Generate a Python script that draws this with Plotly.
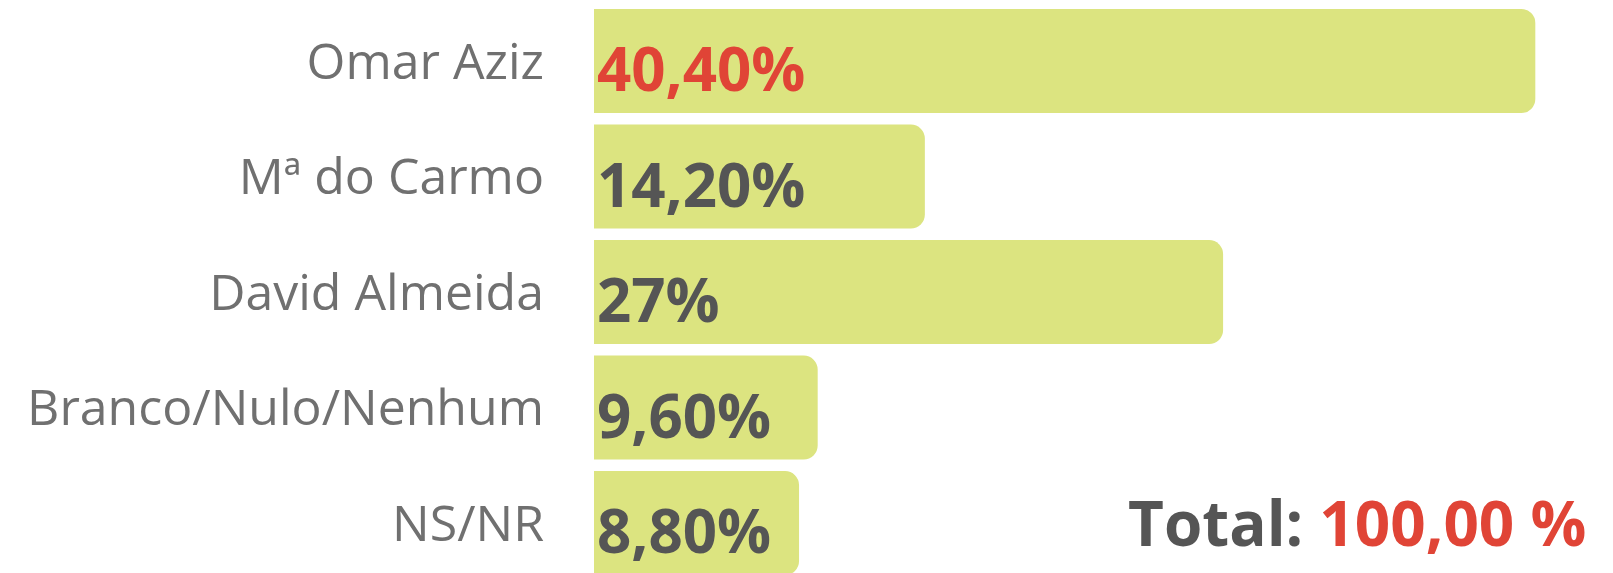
import plotly.graph_objects as go

categories = ["Omar Aziz", "Mª do Carmo", "David Almeida", "Branco/Nulo/Nenhum", "NS/NR"]
values = [40.4, 14.2, 27.0, 9.6, 8.8]
value_labels = ["40,40%", "14,20%", "27%", "9,60%", "8,80%"]
label_colors = ["#e04436", "#555555", "#555555", "#555555", "#555555"]
total_label = "100,00 %"

BAR = "#dce480"

fig = go.Figure()
fig.add_trace(go.Bar(
    y=categories, x=values, orientation="h",
    marker=dict(color=BAR, line=dict(width=0)),
    width=0.9, hoverinfo="skip",
))

for cat, v, lab, col in zip(categories, values, value_labels, label_colors):
    fig.add_annotation(
        x=0, y=cat, xref="x", yref="y", text=f"<b>{lab}</b>", showarrow=False,
        xanchor="left", yanchor="middle", xshift=1, yshift=-7,
        font=dict(family="Open Sans", size=60, color=col),
    )

W, H = 1613, 573
L = 594
ppu = 23.3

fig.add_annotation(
    x=(1588 - L) / (W - L), y=1 - 522 / H, xref="paper", yref="paper",
    text=f"<b><span style='color:#555555'>Total:</span> {total_label}</b>",
    showarrow=False, xanchor="right", yanchor="middle",
    font=dict(family="Open Sans", size=62, color="#e04436"),
)

fig.update_layout(
    width=W, height=H,
    margin=dict(l=L, r=0, t=0, b=0, autoexpand=False),
    paper_bgcolor="white", plot_bgcolor="white",
    showlegend=False, barcornerradius=14,
    xaxis=dict(range=[0, (W - L) / ppu], visible=False, fixedrange=True, automargin=False),
    yaxis=dict(
        range=[4 + 50 / 115.5, -61 / 115.5], showgrid=False, zeroline=False,
        showline=False, ticks="", ticklabelstandoff=49, automargin=False,
        tickfont=dict(family="Open Sans", size=50, color="#707070"),
    ),
)

fig.write_html(
    "out.html",
    config={"displayModeBar": False, "staticPlot": True},
    post_script="document.body.style.margin='0';document.body.style.overflow='hidden';",
)
